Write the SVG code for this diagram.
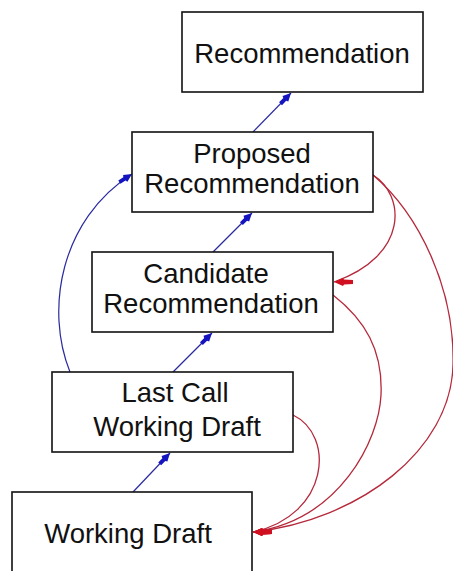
<svg xmlns="http://www.w3.org/2000/svg" width="453" height="571" viewBox="0 0 453 571">
<style>
.box{fill:#fff;stroke:#111;stroke-width:1.6}
.lbl{font-family:"Liberation Sans",Arial,sans-serif;font-size:27.5px;fill:#111;text-anchor:middle}
.blue{fill:none;stroke:#2a2aa0;stroke-width:1.2;marker-end:url(#ab)}
.red{fill:none;stroke:#b5283a;stroke-width:1.3;marker-end:url(#ar)}
</style>
<defs>
<marker id="ab" markerUnits="userSpaceOnUse" markerWidth="18" markerHeight="10" refX="16" refY="5" orient="auto" viewBox="0 0 18 10">
<path d="M16,5 L8,1 L7,3 L1,3 L1,7 L7,7 L8,9 Z" fill="#1515c0"/>
</marker>
<marker id="ar" markerUnits="userSpaceOnUse" markerWidth="22" markerHeight="10" refX="20" refY="5" orient="180" viewBox="0 0 22 10">
<path d="M20,5 L11,1 L10,2.5 L1,3 L1,7 L10,7.5 L11,9 Z" fill="#d01020"/>
</marker>
</defs>
<rect width="453" height="571" fill="#fff"/>
<g id="connectors">
<path class="blue" d="M133,492 L170,453"/>
<path class="blue" d="M173,372 L212,333"/>
<path class="blue" d="M213,252 L252,213"/>
<path class="blue" d="M253,132 L291,93"/>
<path class="blue" d="M70,372 C45,310 60,220 132,174"/>
<path class="red" d="M373,175 C405,195 410,255 334,282"/>
<path class="red" d="M373,175 C420,215 455,290 453,365 C451,450 360,520 253,532"/>
<path class="red" d="M333,295 C365,320 383,350 381,395 C379,440 340,520 253,532"/>
<path class="red" d="M293,415 C335,435 330,515 253,532"/>
</g>
<g id="recommendation">
<rect class="box" x="182" y="12" width="241" height="80"/>
<text class="lbl" x="302" y="63">Recommendation</text>
</g>
<g id="proposed">
<rect class="box" x="132" y="132" width="241" height="80"/>
<text class="lbl" x="252" y="163">Proposed</text>
<text class="lbl" x="252" y="193">Recommendation</text>
</g>
<g id="candidate">
<rect class="box" x="92" y="252" width="241" height="80"/>
<text class="lbl" x="206" y="283">Candidate</text>
<text class="lbl" x="211" y="313">Recommendation</text>
</g>
<g id="lastcall">
<rect class="box" x="52" y="372" width="241" height="80"/>
<text class="lbl" x="175" y="402">Last Call</text>
<text class="lbl" x="177" y="436">Working Draft</text>
</g>
<g id="workingdraft">
<rect class="box" x="12" y="492" width="240" height="90"/>
<text class="lbl" x="128" y="543">Working Draft</text>
</g>
</svg>
